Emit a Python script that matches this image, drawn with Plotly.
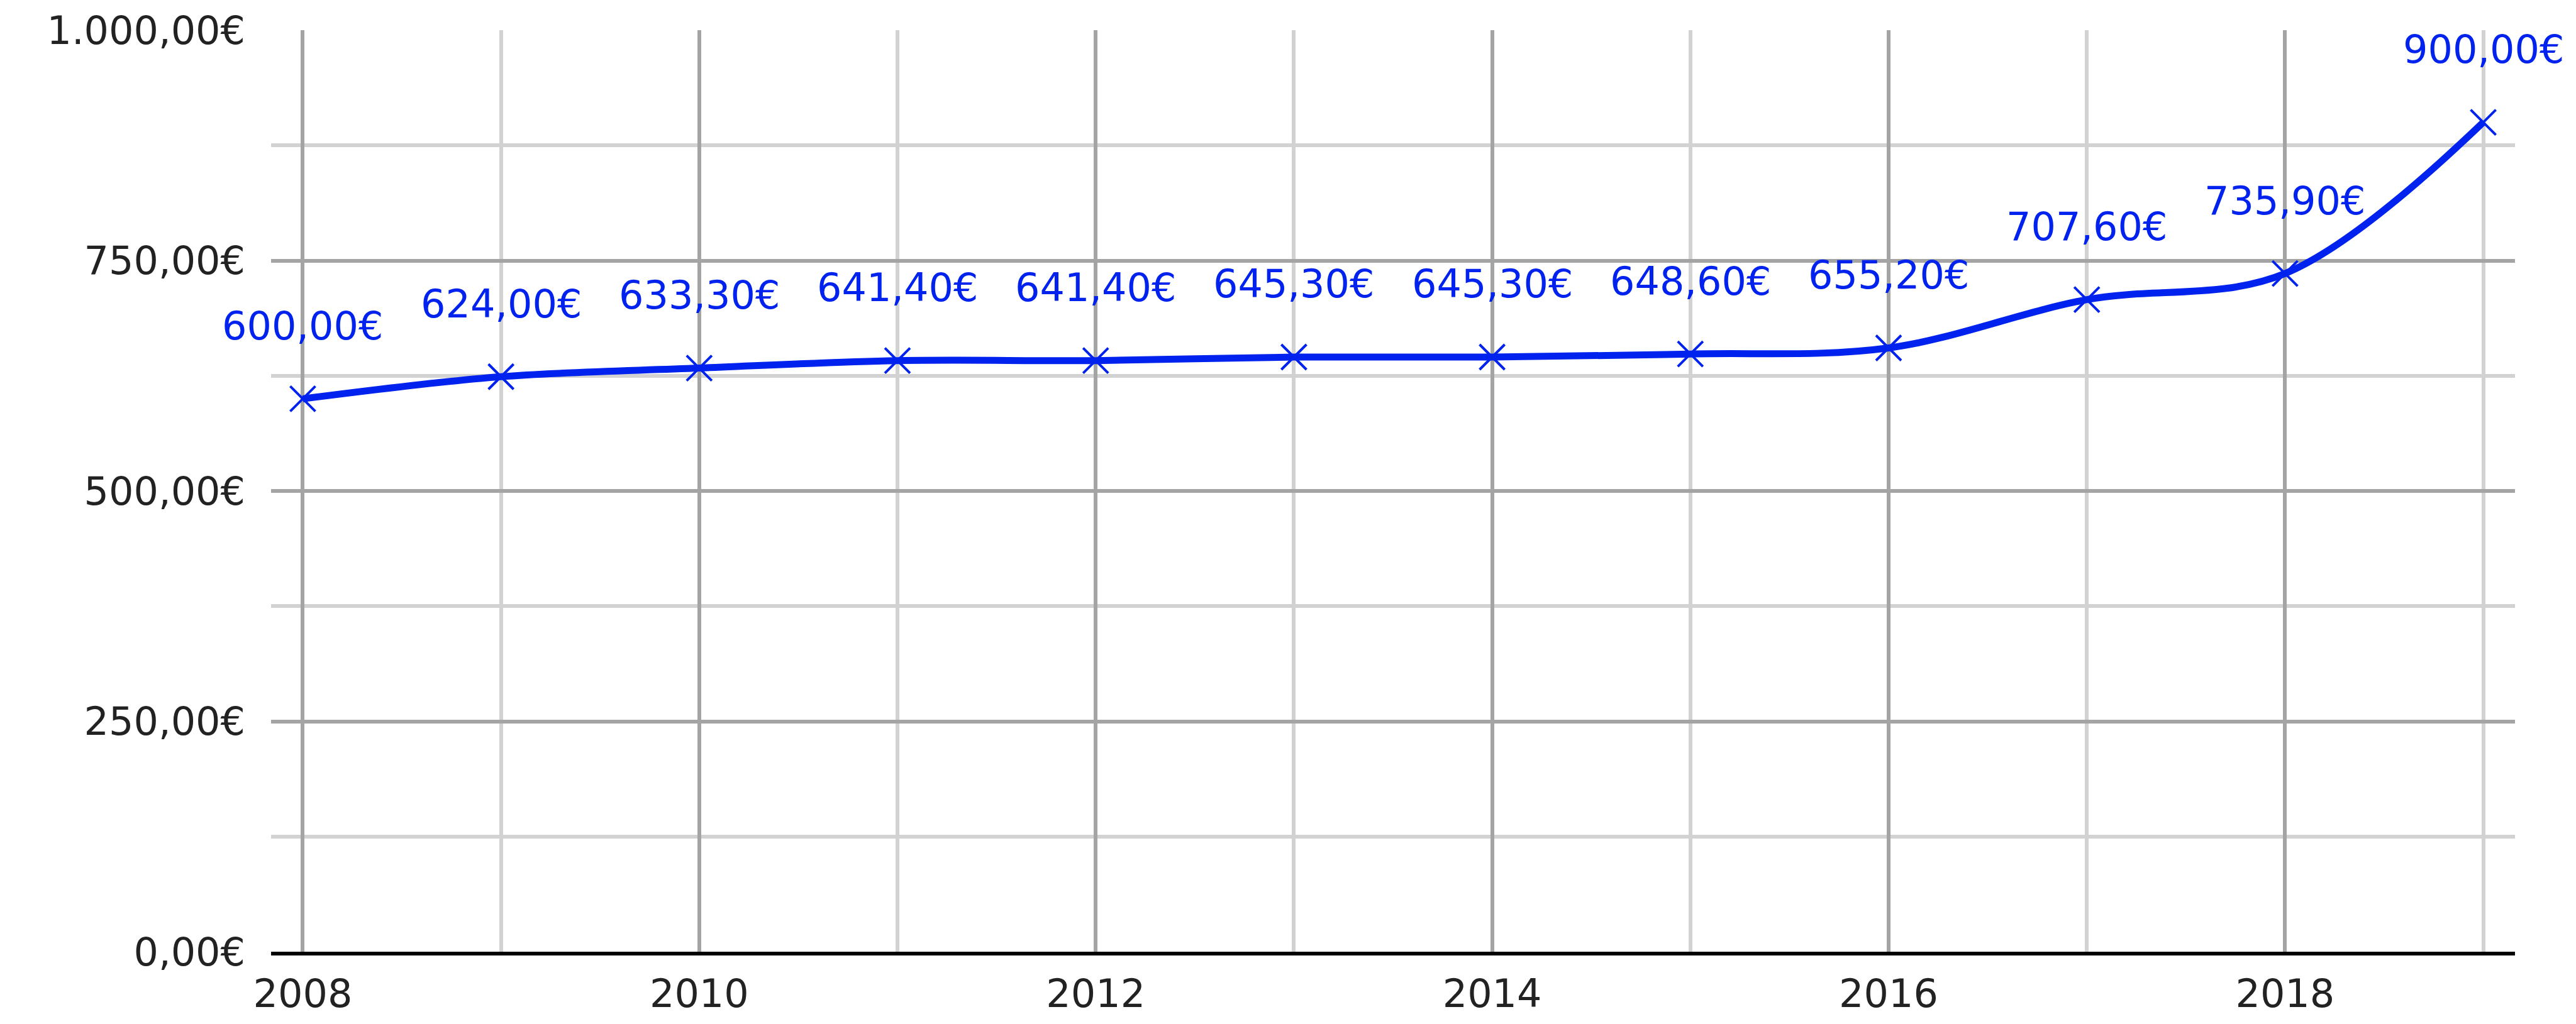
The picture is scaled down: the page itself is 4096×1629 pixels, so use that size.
import plotly.graph_objects as go

# ---- data ----
years = [2008, 2009, 2010, 2011, 2012, 2013, 2014, 2015, 2016, 2017, 2018, 2019]
values = [600.00, 624.00, 633.30, 641.40, 641.40, 645.30, 645.30, 648.60, 655.20, 707.60, 735.90, 900.00]
x_tick_years = [2008, 2010, 2012, 2014, 2016, 2018]
y_tick_values = [0, 250, 500, 750, 1000]
y_minor_values = [125, 375, 625, 875]


def euro(v):
    s = f"{v:,.2f}"
    s = s.replace(",", "X").replace(".", ",").replace("X", ".")
    return s + "€"


BLUE = "#0022ee"
FONT = "DejaVu Sans"
MAJOR = "#a4a4a4"
MINOR = "#d2d2d2"
FS = 62

fig = go.Figure()
fig.add_trace(go.Scatter(
    x=years, y=values, mode="lines+markers",
    line=dict(color=BLUE, width=11, shape="spline", smoothing=1.0),
    marker=dict(symbol="x-thin", size=40, color=BLUE, line=dict(color=BLUE, width=4)),
    hoverinfo="skip",
))

for x, v in zip(years, values):
    fig.add_annotation(
        x=x, y=v, text=euro(v), showarrow=False, yshift=116,
        xanchor="center", yanchor="middle",
        font=dict(family=FONT, size=FS, color=BLUE),
    )

fig.update_layout(
    width=4096, height=1629,
    margin=dict(l=431, r=97, t=47, b=89, pad=0),
    paper_bgcolor="white", plot_bgcolor="white",
    showlegend=False,
    font=dict(family=FONT, size=FS, color="#222222"),
)

fig.update_xaxes(
    range=[2007.84, 2019.16],
    tickmode="array", tickvals=x_tick_years, ticktext=[str(y) for y in x_tick_years],
    showgrid=True, gridcolor=MAJOR, gridwidth=6,
    minor=dict(tickmode="array", tickvals=years, showgrid=True, gridcolor=MINOR, gridwidth=6, ticks=""),
    showline=True, linecolor="black", linewidth=6,
    zeroline=False, ticks="", ticklabelstandoff=8,
    tickfont=dict(family=FONT, size=FS, color="#222222"),
)

fig.update_yaxes(
    range=[0, 1000],
    tickmode="array", tickvals=y_tick_values, ticktext=[euro(v) for v in y_tick_values],
    showgrid=True, gridcolor=MAJOR, gridwidth=6,
    minor=dict(tickmode="array", tickvals=y_minor_values, showgrid=True, gridcolor=MINOR, gridwidth=6, ticks=""),
    showline=False, zeroline=False, ticks="", ticklabelstandoff=40,
    tickfont=dict(family=FONT, size=FS, color="#222222"),
)

fig.write_html("out.html")
